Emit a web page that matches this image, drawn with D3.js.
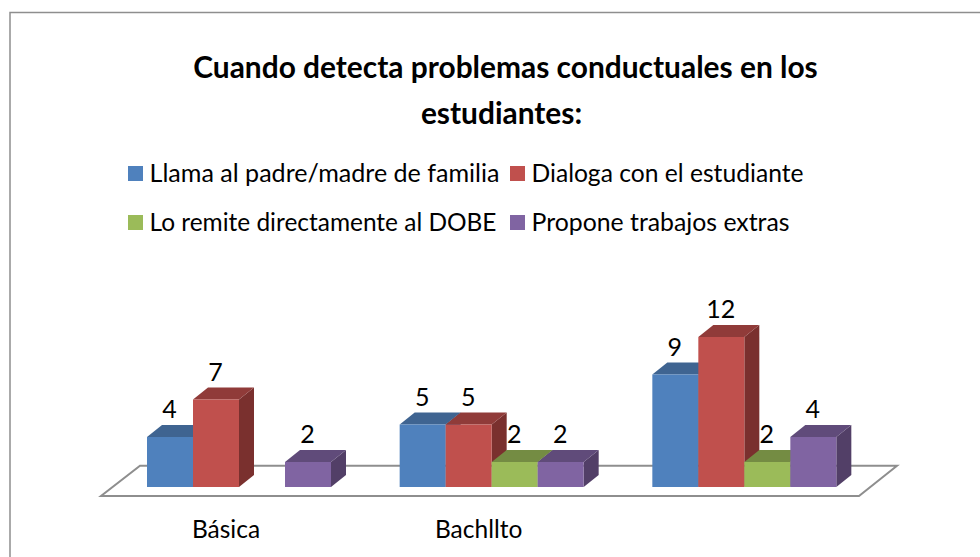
<!DOCTYPE html>
<html><head><meta charset="utf-8">
<script src="https://cdn.jsdelivr.net/npm/d3@7"></script>
<style>html,body{margin:0;padding:0;background:#fff}svg{display:block}text{font-family:Lato,"Open Sans",sans-serif;fill:#000}</style>
</head><body><svg id="c" width="980" height="557"></svg>
<script>
const titleLines = ["Cuando detecta problemas conductuales en los","estudiantes:"];
const categories = ["Básica","Bachllto",""];
const seriesNames = ["Llama al padre/madre de familia","Dialoga con el estudiante","Lo remite directamente al DOBE","Propone trabajos extras"];
const llama = [4,5,9];
const dialoga = [7,5,12];
const remite = [0,2,2];
const propone = [2,2,4];
const seriesValues = [llama,dialoga,remite,propone];
const frontColors = ["#4f81bd","#c0504d","#9bbb59","#8064a2"];
const topColors = ["#3f6491","#903b39","#748c43","#604b7a"];
const sideColors = ["#34547a","#7a302e","#627639","#523f67"];

const svg = d3.select("#c");
const base = 487, dx = 15, dy = 12;
const x0 = d3.scaleBand().domain(d3.range(categories.length)).range([100.5,858.5]).paddingInner(0).paddingOuter(0);
const xS = d3.scaleBand().domain(d3.range(seriesNames.length)).range([46.5,230.5]);
const y = d3.scaleLinear().domain([0,12]).range([base,337]);
const barX = (c,s)=>x0(c)+xS(s);
const w = xS.bandwidth();

// frame
svg.append("path").attr("d","M10,557V12.5H980").attr("fill","none").attr("stroke","#8e8e8e").attr("stroke-width",1.5);

// title
const titleX = [505.5,501.5];
svg.append("g").selectAll("text").data(titleLines).join("text")
  .attr("x",(d,i)=>titleX[i]).attr("y",(d,i)=>78+i*45.5).attr("text-anchor","middle")
  .attr("font-size",29.9).attr("font-weight",700).text(d=>d);

// legend
const legX = [128,510], legY = [166,215], legW = [350,272,347,258];
const leg = svg.append("g").selectAll("g").data(seriesNames).join("g")
  .attr("transform",(d,i)=>`translate(${legX[i%2]},${legY[Math.floor(i/2)]})`);
leg.append("rect").attr("width",15).attr("height",15).attr("fill",(d,i)=>frontColors[i]);
leg.append("text").attr("x",21.5).attr("y",15.5).attr("font-size",25)
  .attr("textLength",(d,i)=>legW[i]).attr("lengthAdjust","spacingAndGlyphs").text(d=>d);

// floor
svg.append("path").attr("d",`M101,496H859L897,465.7H140Z`).attr("fill","#fff").attr("stroke","#8e8e8e").attr("stroke-width",2);

// bars, painted left to right so each bar covers its left neighbour's side
const bars = [];
categories.forEach((c,ci)=>seriesNames.forEach((s,si)=>{
  if(seriesValues[si][ci]>0) bars.push({ci,si,v:seriesValues[si][ci]});
}));
const g = svg.append("g");
bars.forEach(b=>{
  const X=barX(b.ci,b.si), T=y(b.v);
  g.append("path").attr("d",`M${X+w},${T}l${dx},${-dy}V${base-dy}l${-dx},${dy}Z`).attr("fill",sideColors[b.si]);
  g.append("path").attr("d",`M${X},${T}l${dx},${-dy}h${w}l${-dx},${dy}Z`).attr("fill",topColors[b.si]);
  g.append("rect").attr("x",X).attr("y",T).attr("width",w).attr("height",base-T).attr("fill",frontColors[b.si]);
});
// value labels
svg.append("g").selectAll("text").data(bars).join("text")
  .attr("x",b=>barX(b.ci,b.si)+w/2-0.5).attr("y",b=>y(b.v)-19)
  .attr("text-anchor","middle").attr("font-size",25).text(b=>b.v);

// category labels
svg.append("g").selectAll("text").data(categories).join("text")
  .attr("x",(d,i)=>x0(i)+xS(1)+w-13).attr("y",537.5).attr("text-anchor","middle").attr("font-size",24.5).text(d=>d);
</script></body></html>
